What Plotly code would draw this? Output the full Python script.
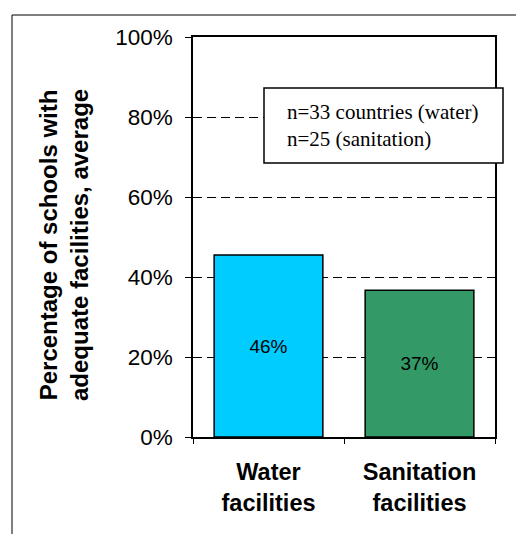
import plotly.graph_objects as go

categories = ["Water facilities", "Sanitation facilities"]
tick_labels = ["Water<br>facilities", "Sanitation<br>facilities"]
values = [45.5, 36.7]
value_labels = ["46%", "37%"]
bar_colors = ["#00CCFF", "#339966"]
y_ticks = [0, 20, 40, 60, 80, 100]
y_tick_labels = ["0%", "20%", "40%", "60%", "80%", "100%"]
note_text = "n=33 countries (water)<br>n=25 (sanitation)"
y_title = "Percentage of schools with<br>adequate facilities, average"

W, H = 516, 534
L, R, T, B = 193, 21, 37, 97
pw, ph = W - L - R, H - T - B

def px_x(p):
    return (p - L) / pw

def px_y(p):
    return (H - B - p) / ph

fig = go.Figure(go.Bar(
    x=categories, y=values, text=value_labels,
    textposition="inside", insidetextanchor="middle",
    textfont=dict(family="Liberation Sans, Arial", size=19, color="black"),
    marker=dict(color=bar_colors, line=dict(color="black", width=1.5)),
    width=0.72, constraintext="none",
))

fig.update_layout(
    width=W, height=H, margin=dict(l=L, r=R, t=T, b=B, pad=0),
    paper_bgcolor="white", plot_bgcolor="white", showlegend=False,
    font=dict(family="Liberation Sans, Arial", color="black"),
)
fig.update_yaxes(
    range=[0, 100], tickvals=y_ticks, ticktext=y_tick_labels,
    ticks="outside", ticklen=6, tickcolor="black", tickwidth=1,
    tickfont=dict(size=22.5, color="black"), ticklabelstandoff=8,
    showgrid=True, gridcolor="black", gridwidth=1, griddash="9px,5px",
    showline=True, linecolor="black", linewidth=1.5, mirror=True,
    zeroline=False,
)
fig.update_xaxes(
    tickvals=categories, ticktext=tick_labels, tickson="boundaries",
    ticks="outside", ticklen=5, tickcolor="black", tickwidth=1,
    tickfont=dict(size=23.5, color="black", weight="bold"), ticklabelstandoff=13,
    showline=True, linecolor="black", linewidth=1.5, mirror=True,
    showgrid=False,
)

# note box
fig.add_shape(type="rect", xref="paper", yref="paper",
              x0=px_x(264), x1=px_x(503), y0=px_y(163), y1=px_y(88),
              fillcolor="white", line=dict(color="black", width=1.5), layer="above")
fig.add_annotation(xref="paper", yref="paper", x=px_x(285), y=px_y(125.5),
                   xanchor="left", yanchor="middle", align="left", showarrow=False,
                   text=note_text,
                   font=dict(family="Liberation Serif, Times New Roman", size=21, color="black"))
# y title
fig.add_annotation(xref="paper", yref="paper", x=px_x(64), y=px_y(245),
                   xanchor="center", yanchor="middle", showarrow=False, textangle=-90,
                   text=y_title,
                   font=dict(family="Liberation Sans, Arial", size=24, color="black", weight="bold"))
# outer frame (partially visible)
fig.add_shape(type="line", xref="paper", yref="paper",
              x0=px_x(12), x1=px_x(12), y0=px_y(15), y1=px_y(600),
              line=dict(color="black", width=1))
fig.add_shape(type="line", xref="paper", yref="paper",
              x0=px_x(12), x1=px_x(600), y0=px_y(15), y1=px_y(15),
              line=dict(color="black", width=1))

fig.write_html("out.html")
